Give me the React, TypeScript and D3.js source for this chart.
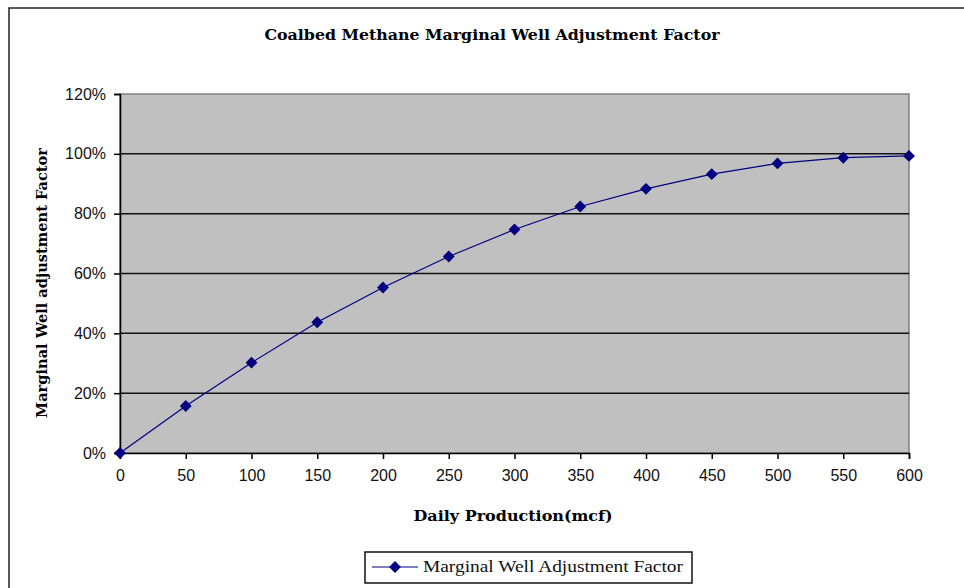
import * as d3 from 'd3'
import { useEffect, useRef } from 'react'

const production = [0, 50, 100, 150, 200, 250, 300, 350, 400, 450, 500, 550, 600]
const factor = [0, 0.157, 0.302, 0.437, 0.553, 0.657, 0.747, 0.824, 0.883, 0.932, 0.968, 0.987, 0.993]
const yTicks = [0, 0.2, 0.4, 0.6, 0.8, 1.0, 1.2]
const xTicks = [0, 50, 100, 150, 200, 250, 300, 350, 400, 450, 500, 550, 600]

const titleText = 'Coalbed Methane Marginal Well Adjustment Factor'
const xLabel = 'Daily Production(mcf)'
const yLabel = 'Marginal Well adjustment Factor'
const seriesName = 'Marginal Well Adjustment Factor'

export default function App() {
  const ref = useRef<SVGSVGElement | null>(null)

  useEffect(() => {
    if (!ref.current) return
    const W = 964
    const H = 588
    const m = { left: 120, right: 909, top: 94, bottom: 453 }
    const svg = d3.select(ref.current)
    svg.selectAll('*').remove()
    svg.attr('width', W).attr('height', H)

    svg.append('rect').attr('width', W).attr('height', H).attr('fill', '#fff')
    // outer chart frame, runs off the right and bottom edge
    svg.append('rect')
      .attr('x', 9).attr('y', 8).attr('width', W + 20).attr('height', H + 20)
      .attr('fill', 'none').attr('stroke', '#222').attr('stroke-width', 1.5)

    const x = d3.scaleLinear().domain([0, 600]).range([m.left, m.right])
    const y = d3.scaleLinear().domain([0, 1.2]).range([m.bottom, m.top])

    svg.append('rect')
      .attr('x', m.left).attr('y', m.top)
      .attr('width', m.right - m.left).attr('height', m.bottom - m.top)
      .attr('fill', '#c0c0c0').attr('stroke', '#808080').attr('stroke-width', 1.5)

    // gridlines
    svg.append('g').selectAll('line')
      .data(yTicks.filter((t) => t > 0 && t < 1.2))
      .join('line')
      .attr('x1', m.left).attr('x2', m.right)
      .attr('y1', (d) => y(d)).attr('y2', (d) => y(d))
      .attr('stroke', '#111').attr('stroke-width', 1.5)

    const tickFont = '"Liberation Sans", Arial, sans-serif'

    const yAxis = svg.append('g')
      .attr('transform', `translate(${m.left},0)`)
      .call(d3.axisLeft(y).tickValues(yTicks).tickFormat(d3.format('.0%')).tickSize(6).tickPadding(8))
    yAxis.select('.domain').attr('stroke', '#000').attr('stroke-width', 1.5)
    yAxis.selectAll('.tick line').attr('stroke', '#000').attr('stroke-width', 1.5)
    yAxis.selectAll('.tick text').attr('font-family', tickFont).attr('font-size', 16).attr('fill', '#111')

    const xAxis = svg.append('g')
      .attr('transform', `translate(0,${m.bottom})`)
      .call(d3.axisBottom(x).tickValues(xTicks).tickFormat(d3.format('d')).tickSize(6).tickPadding(11))
    xAxis.select('.domain').attr('stroke', '#000').attr('stroke-width', 1.5)
    xAxis.selectAll('.tick line').attr('stroke', '#000').attr('stroke-width', 1.5)
    xAxis.selectAll('.tick text').attr('font-family', tickFont).attr('font-size', 16).attr('fill', '#111')

    const line = d3.line<number>()
      .x((_, i) => x(production[i]))
      .y((d) => y(d))
    svg.append('path')
      .datum(factor)
      .attr('fill', 'none')
      .attr('stroke', '#000080')
      .attr('stroke-width', 1.2)
      .attr('d', line)

    const diamond = d3.symbol().type(d3.symbolDiamond2).size(90)
    svg.append('g').selectAll('path')
      .data(factor)
      .join('path')
      .attr('transform', (d, i) => `translate(${x(production[i])},${y(d)})`)
      .attr('d', diamond)
      .attr('fill', '#000080')

    const serif = '"DejaVu Serif", "Liberation Serif", serif'

    svg.append('text')
      .attr('x', 492).attr('y', 40)
      .attr('text-anchor', 'middle')
      .attr('font-family', serif).attr('font-weight', 'bold').attr('font-size', 15)
      .attr('textLength', 455).attr('lengthAdjust', 'spacingAndGlyphs')
      .text(titleText)

    svg.append('text')
      .attr('x', 513).attr('y', 521)
      .attr('text-anchor', 'middle')
      .attr('font-family', serif).attr('font-weight', 'bold').attr('font-size', 15)
      .attr('textLength', 199).attr('lengthAdjust', 'spacingAndGlyphs')
      .text(xLabel)

    svg.append('text')
      .attr('transform', 'translate(47,283) rotate(-90)')
      .attr('text-anchor', 'middle')
      .attr('font-family', serif).attr('font-weight', 'bold').attr('font-size', 15)
      .attr('textLength', 270).attr('lengthAdjust', 'spacingAndGlyphs')
      .text(yLabel)

    // legend
    const lg = svg.append('g')
    lg.append('rect')
      .attr('x', 365).attr('y', 552).attr('width', 327).attr('height', 31)
      .attr('fill', '#fff').attr('stroke', '#111').attr('stroke-width', 1.5)
    lg.append('line')
      .attr('x1', 372).attr('x2', 418).attr('y1', 567).attr('y2', 567)
      .attr('stroke', '#000080').attr('stroke-width', 1.2)
    lg.append('path')
      .attr('transform', 'translate(395,567)')
      .attr('d', diamond)
      .attr('fill', '#000080')
    lg.append('text')
      .attr('x', 423).attr('y', 572)
      .attr('font-family', '"Liberation Serif", "Times New Roman", serif').attr('font-size', 16)
      .attr('textLength', 260).attr('lengthAdjust', 'spacingAndGlyphs')
      .attr('fill', '#111')
      .text(seriesName)
  }, [])

  return <svg ref={ref} style={{ position: 'absolute', left: 0, top: 0, display: 'block' }} />
}
